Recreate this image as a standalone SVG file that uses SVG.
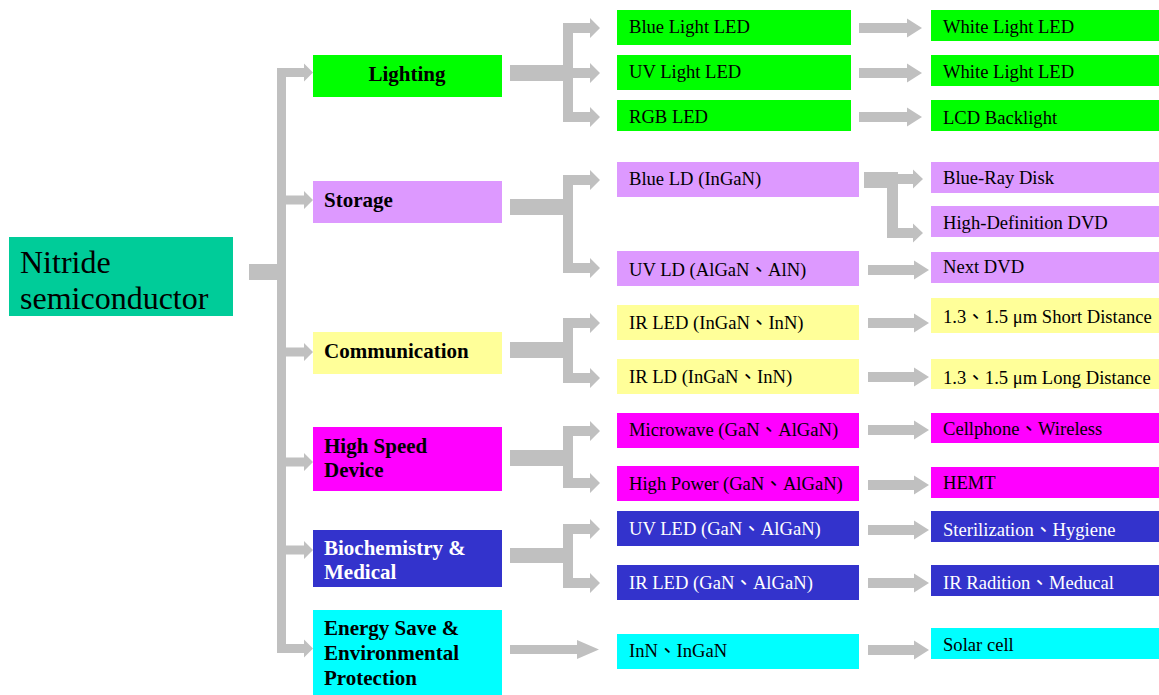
<svg xmlns="http://www.w3.org/2000/svg" width="1159" height="695" viewBox="0 0 1159 695">
<style>
text{font-family:"Liberation Serif","Noto Sans CJK TC",serif;fill:#000}
.s{font-size:18.6px}
.c{font-size:21px;font-weight:bold}
.w{fill:#fff}
.g{fill:#00FF00}.v{fill:#DD99FF}.y{fill:#FFFF99}.m{fill:#FF00FF}.b{fill:#3333CC}.cy{fill:#00FFFF}
.con{fill:#C0C0C0}
</style>
<defs>
<clipPath id="cp"><rect x="931" y="359" width="228" height="30"/></clipPath>
<clipPath id="cp2"><rect x="931" y="511" width="228" height="31"/></clipPath>
<clipPath id="cp3"><rect x="931" y="100" width="228" height="31"/></clipPath>
</defs>
<g id="connectors" class="con">
<rect x="249" y="264" width="28" height="16"/>
<rect x="277" y="68" width="9" height="585"/>
<polygon points="277,68 304,68 304,63.5 313,72.5 304,81.5 304,77 277,77"/>
<polygon points="277,195.5 304,195.5 304,191 313,200 304,209 304,204.5 277,204.5"/>
<polygon points="277,347.5 304,347.5 304,343 313,352 304,361 304,356.5 277,356.5"/>
<polygon points="277,457.5 304,457.5 304,453 313,462 304,471 304,466.5 277,466.5"/>
<polygon points="277,545.5 304,545.5 304,541 313,550 304,559 304,554.5 277,554.5"/>
<polygon points="277,644 304,644 304,639.5 313,648.5 304,657.5 304,653 277,653"/>
<rect x="510" y="65" width="53" height="16"/>
<rect x="563" y="23" width="10" height="99"/>
<polygon points="563,23 590,23 590,18 600,28 590,38 590,33 563,33"/>
<polygon points="563,68 590,68 590,63 600,73 590,83 590,78 563,78"/>
<polygon points="563,112 590,112 590,107 600,117 590,127 590,122 563,122"/>
<rect x="510" y="199" width="53" height="16"/>
<rect x="563" y="175" width="10" height="98"/>
<polygon points="563,175 590,175 590,170 600,180 590,190 590,185 563,185"/>
<polygon points="563,263 590,263 590,258 600,268 590,278 590,273 563,273"/>
<rect x="510" y="342" width="53" height="16"/>
<rect x="563" y="318" width="10" height="65"/>
<polygon points="563,318 590,318 590,313 600,323 590,333 590,328 563,328"/>
<polygon points="563,373 590,373 590,368 600,378 590,388 590,383 563,383"/>
<rect x="510" y="450" width="53" height="16"/>
<rect x="563" y="426" width="10" height="62"/>
<polygon points="563,426 590,426 590,421 600,431 590,441 590,436 563,436"/>
<polygon points="563,478 590,478 590,473 600,483 590,493 590,488 563,488"/>
<rect x="510" y="548" width="53" height="15"/>
<rect x="563" y="524" width="10" height="64"/>
<polygon points="563,524 590,524 590,519 600,529 590,539 590,534 563,534"/>
<polygon points="563,578 590,578 590,573 600,583 590,593 590,588 563,588"/>
<polygon points="510,645 577,645 577,640 599,649.5 577,659 577,654 510,654"/>
<polygon points="859,23 907,23 907,18.5 922,28 907,37.5 907,33 859,33"/>
<polygon points="859,68 907,68 907,63.5 922,73 907,82.5 907,78 859,78"/>
<polygon points="859,112 907,112 907,107.5 922,117 907,126.5 907,122 859,122"/>
<rect x="864" y="172" width="34" height="16"/>
<rect x="887" y="172" width="11" height="66"/>
<polygon points="898,174 913,174 913,169.5 923,179 913,188.5 913,184 898,184"/>
<polygon points="898,228 913,228 913,223.5 923,233 913,242.5 913,238 898,238"/>
<polygon points="868,265 914,265 914,260.5 929,270 914,279.5 914,275 868,275"/>
<polygon points="868,318 914,318 914,313.5 929,323 914,332.5 914,328 868,328"/>
<polygon points="868,372 914,372 914,367.5 929,377 914,386.5 914,382 868,382"/>
<polygon points="868,425 914,425 914,420.5 929,430 914,439.5 914,435 868,435"/>
<polygon points="868,480 914,480 914,475.5 929,485 914,494.5 914,490 868,490"/>
<polygon points="868,525 914,525 914,520.5 929,530 914,539.5 914,535 868,535"/>
<polygon points="868,578 914,578 914,573.5 929,583 914,592.5 914,588 868,588"/>
<polygon points="868,645 914,645 914,640.5 929,650 914,659.5 914,655 868,655"/>
</g>
<g id="root"><rect x="9" y="237" width="224" height="79" fill="#00CC99"/><text x="20" y="273" font-size="32px">Nitride</text><text x="20" y="309" font-size="32px">semiconductor</text></g>
<g id="lighting"><rect class="g" x="313" y="55" width="189" height="42"/><text class="c" x="407" y="81" text-anchor="middle">Lighting</text></g>
<g id="storage"><rect class="v" x="313" y="181" width="189" height="42"/><text class="c" x="324" y="207">Storage</text></g>
<g id="communication"><rect class="y" x="313" y="332" width="189" height="42"/><text class="c" x="324" y="358">Communication</text></g>
<g id="highspeed"><rect class="m" x="313" y="427" width="189" height="64"/><text class="c" x="324" y="453">High Speed</text><text class="c" x="324" y="477">Device</text></g>
<g id="biochem"><rect class="b" x="313" y="530" width="189" height="57"/><text class="c w" x="324" y="555">Biochemistry &amp;</text><text class="c w" x="324" y="579">Medical</text></g>
<g id="energy"><rect class="cy" x="313" y="610" width="189" height="85"/><text class="c" x="324" y="635">Energy Save &amp;</text><text class="c" x="324" y="660">Environmental</text><text class="c" x="324" y="685">Protection</text></g>
<g id="blue-led"><rect class="g" x="617" y="10" width="234" height="35"/><text class="s" x="629" y="33">Blue Light LED</text></g>
<g id="uv-led"><rect class="g" x="617" y="55" width="234" height="35"/><text class="s" x="629" y="78">UV Light LED</text></g>
<g id="rgb-led"><rect class="g" x="617" y="100" width="234" height="31"/><text class="s" x="629" y="123">RGB LED</text></g>
<g id="blue-ld"><rect class="v" x="617" y="162" width="242" height="35"/><text class="s" x="629" y="185">Blue LD (InGaN)</text></g>
<g id="uv-ld"><rect class="v" x="617" y="251" width="242" height="35"/><text class="s" x="629" y="276">UV LD (AlGaN、AlN)</text></g>
<g id="ir-led-ingan"><rect class="y" x="617" y="305" width="242" height="35"/><text class="s" x="629" y="329">IR LED (InGaN、InN)</text></g>
<g id="ir-ld"><rect class="y" x="617" y="359" width="242" height="35"/><text class="s" x="629" y="383">IR LD (InGaN、InN)</text></g>
<g id="microwave"><rect class="m" x="617" y="413" width="242" height="35"/><text class="s" x="629" y="436">Microwave (GaN、AlGaN)</text></g>
<g id="highpower"><rect class="m" x="617" y="466" width="242" height="35"/><text class="s" x="629" y="490">High Power (GaN、AlGaN)</text></g>
<g id="uv-led-gan"><rect class="b" x="617" y="511" width="242" height="35"/><text class="s w" x="629" y="535">UV LED (GaN、AlGaN)</text></g>
<g id="ir-led-gan"><rect class="b" x="617" y="565" width="242" height="35"/><text class="s w" x="629" y="589">IR LED (GaN、AlGaN)</text></g>
<g id="inn"><rect class="cy" x="617" y="634" width="242" height="35"/><text class="s" x="629" y="657">InN、InGaN</text></g>
<g id="white1"><rect class="g" x="931" y="10" width="228" height="31"/><text class="s" x="943" y="33">White Light LED</text></g>
<g id="white2"><rect class="g" x="931" y="55" width="228" height="31"/><text class="s" x="943" y="78">White Light LED</text></g>
<g id="lcd"><rect class="g" x="931" y="100" width="228" height="31"/><text class="s" x="943" y="124" clip-path="url(#cp3)">LCD Backlight</text></g>
<g id="bluray"><rect class="v" x="931" y="162" width="228" height="31"/><text class="s" x="943" y="184">Blue-Ray Disk</text></g>
<g id="hddvd"><rect class="v" x="931" y="206" width="228" height="31"/><text class="s" x="943" y="229">High-Definition DVD</text></g>
<g id="nextdvd"><rect class="v" x="931" y="252" width="228" height="31"/><text class="s" x="943" y="273">Next DVD</text></g>
<g id="short"><rect class="y" x="931" y="298" width="228" height="35"/><text class="s" x="943" y="323">1.3、1.5 μm Short Distance</text></g>
<g id="long"><rect class="y" x="931" y="359" width="228" height="30"/><text class="s" x="943" y="384" clip-path="url(#cp)">1.3、1.5 μm Long Distance</text></g>
<g id="cellphone"><rect class="m" x="931" y="413" width="228" height="30"/><text class="s" x="943" y="435">Cellphone、Wireless</text></g>
<g id="hemt"><rect class="m" x="931" y="467" width="228" height="31"/><text class="s" x="943" y="489">HEMT</text></g>
<g id="sterilization"><rect class="b" x="931" y="511" width="228" height="31"/><text class="s w" x="943" y="536" clip-path="url(#cp2)">Sterilization、Hygiene</text></g>
<g id="ir-radition"><rect class="b" x="931" y="565" width="228" height="31"/><text class="s w" x="943" y="589">IR Radition、Meducal</text></g>
<g id="solar"><rect class="cy" x="931" y="628" width="228" height="31"/><text class="s" x="943" y="651">Solar cell</text></g>
</svg>
